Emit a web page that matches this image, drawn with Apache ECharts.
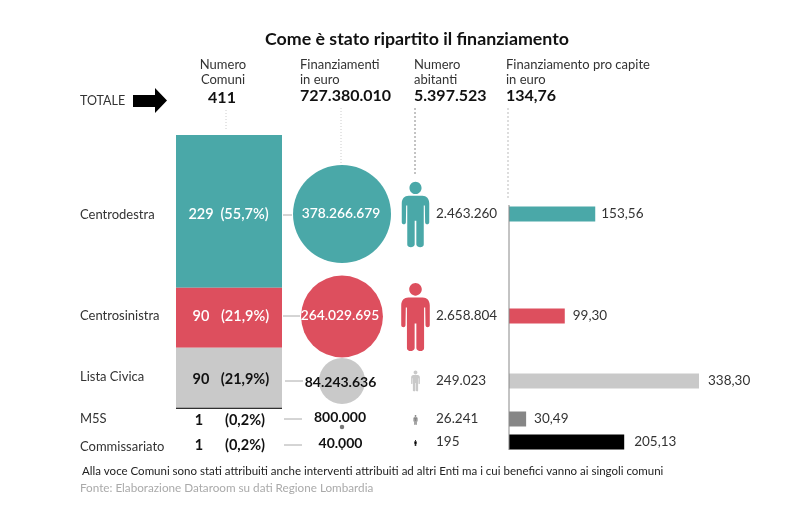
<!DOCTYPE html>
<html><head><meta charset="utf-8">
<style>html,body{margin:0;padding:0;background:#fff}#c{width:800px;height:514px}</style>
<script src="https://cdn.jsdelivr.net/npm/echarts@6/dist/echarts.min.js"></script>
</head><body><div id="c"></div>
<script>
const categories = ['Centrodestra','Centrosinistra','Lista Civica','M5S','Commissariato'];
const comuni = [229,90,90,1,1];
const comuniPct = ['55,7%','21,9%','21,9%','0,2%','0,2%'];
const finanziamenti = [378266679,264029695,84243636,800000,40000];
const abitanti = [2463260,2658804,249023,26241,195];
const proCapite = [153.56,99.30,338.30,30.49,205.13];
const totals = {comuni:411, finanziamenti:727380010, abitanti:5397523, proCapite:'134,76'};
const title = 'Come è stato ripartito il finanziamento';
const note = 'Alla voce Comuni sono stati attribuiti anche interventi attribuiti ad altri Enti ma i cui benefici vanno ai singoli comuni';
const source = 'Fonte: Elaborazione Dataroom su dati Regione Lombardia';

// layout and style
const FONT = 'Lato';
const colors = ['#4aa8a8','#dd4f5e','#c9c9c9','#868686','#000000'];
const rowY = [214,316,381,419,442];
const dotY = [214,316.5,381,427,449];
const personY = [214.5,317,381,420,443];
const labelY = [214.5,315.5,376.5,419,446.5];
const stackLabelY = [214,316,379,420,445];
const finLabelY = [214,316,382,417,443];
const finLabelX = [341,340,340.5,340,340.5];
const finColor = ['#fff','#fff','#111','#111','#111'];
const barLabelGap = [6,8,9,8,10];
const connector = [[283,292,215],[283,300,316],[285,303,381],[284,302,419],[284,302,445]];
const countX = [201,201,201,199,199];
const pctX = [244.5,245,245,245,245];
const PERSON = 'path://M50 0C62 0 72 10 72 22C72 34 62 44 50 44C38 44 28 34 28 22C28 10 38 0 50 0Z M25 50L75 50C90 50 100 60 100 78L100 145C100 155 85 155 85 145L84 85L80 85L80 225C80 238 55 238 53 225L53 140L47 140L47 225C45 238 20 238 20 225L20 85L16 85L15 145C15 155 0 155 0 145L0 78C0 60 10 50 25 50Z';

const fmt = v => String(v).replace(/\B(?=(\d{3})+$)/g,'.');
const dec = v => v.toFixed(2).replace('.',',');

const grids=[], xAxes=[], yAxes=[], series=[];
function addGrid(g, xa, ya){
  grids.push(g);
  xAxes.push(Object.assign({gridIndex:grids.length-1, show:false}, xa));
  yAxes.push(Object.assign({gridIndex:grids.length-1, show:false}, ya));
  return grids.length-1;
}
// stacked Comuni column
const gs = addGrid({left:176,width:106,top:135,height:274},
  {type:'category',data:['Comuni']},
  {type:'value',min:0,max:411,inverse:true});
categories.forEach((c,i)=>series.push({
  type:'bar',name:c,stack:'comuni',xAxisIndex:gs,yAxisIndex:gs,barWidth:'100%',
  data:[comuni[i]],itemStyle:{color:i===3?'#000':colors[i]},silent:true,animation:false
}));
categories.forEach((c,i)=>{
  // circle: area proportional to the funding
  const g1 = addGrid({left:342,width:0.01,top:dotY[i]-0.5,height:1},
    {type:'category',data:[c]},{type:'category',data:[c]});
  series.push({type:'scatter',xAxisIndex:g1,yAxisIndex:g1,animation:false,silent:true,
    data:[[c,c,finanziamenti[i]]],
    symbolSize:d=>Math.max(2,Math.sqrt(d[2]/378266679)*98),
    itemStyle:{color:i>=3?(i===3?'#777':'#555'):colors[i],opacity:1}});
  // person: area proportional to the inhabitants
  const g2 = addGrid({left:415.5,width:0.01,top:personY[i]-0.5,height:1},
    {type:'category',data:[c]},{type:'category',data:[c]});
  series.push({type:'scatter',xAxisIndex:g2,yAxisIndex:g2,animation:false,silent:true,
    data:[[c,c,abitanti[i]]],symbol:PERSON,
    symbolSize:d=>{const h=Math.max(6,Math.sqrt(d[2])*0.0417+(d[2]<1e5?3:0));return [h*0.42,h];},
    itemStyle:{color:colors[i],opacity:1}});
  // per-capita bar
  const g3 = addGrid({left:509,width:190,top:rowY[i]-7.5,height:15},
    {type:'value',min:0,max:338.3},{type:'category',data:[c]});
  series.push({type:'bar',xAxisIndex:g3,yAxisIndex:g3,barWidth:15,animation:false,silent:true,
    data:[proCapite[i]],itemStyle:{color:colors[i]},
    label:{show:true,position:'right',distance:barLabelGap[i],formatter:p=>dec(p.value),
      fontFamily:FONT,fontSize:13.5,color:'#333'}});
});

const T=(x,y,text,o={})=>({type:'text',x,y,z:100,silent:true,style:Object.assign({
  text,fontFamily:FONT,fontSize:13,fill:'#333',align:'left',verticalAlign:'middle'},o)});
const L=(x1,y1,x2,y2,stroke,dash)=>({type:'line',z:50,silent:true,
  shape:{x1,y1,x2,y2},style:{stroke,lineWidth:1,lineDash:dash||null}});

const B={fontSize:16,fontWeight:'bold',fill:'#111'};
const graphic=[
  T(417,39,title,{fontSize:17.8,fontWeight:'bold',fill:'#111',align:'center'}),
  T(80,100.5,'TOTALE',{fontSize:12.5}),
  {type:'polygon',z:50,silent:true,shape:{points:[[133,95],[155,95],[155,88],[167,100.5],[155,113],[155,107],[133,107]]},style:{fill:'#000'}},
  T(223,65,'Numero',{align:'center'}),T(223,80,'Comuni',{align:'center'}),
  T(222,98,fmt(totals.comuni),Object.assign({align:'center'},B)),
  T(300,65,'Finanziamenti'),T(300,80,'in euro'),
  T(300,96,fmt(totals.finanziamenti),B),
  T(414,65,'Numero'),T(414,80,'abitanti'),
  T(414,96,fmt(totals.abitanti),B),
  T(506,65,'Finanziamento pro capite'),T(506,80,'in euro'),
  T(506,96,totals.proCapite,B),
  L(226,110,226,130,'#ccc',[1,2]),
  L(341,108,341,163,'#ccc',[1,2]),
  L(415,108,415,174,'#888',[2,2]),
  L(508,108,508,200,'#bbb',[2,2]),
  L(509,205,509,450,'#888'),
  T(82,471,note,{fontSize:11.5,fill:'#222'}),
  T(80,488,source,{fontSize:11.7,fill:'#aaa'})
];
categories.forEach((c,i)=>{
  graphic.push(T(80,labelY[i],c,{fontSize:13}));
  const col=i<2?'#fff':'#111', w=i<2?600:'bold';
  graphic.push(T(countX[i],stackLabelY[i],String(comuni[i]),{align:'center',fontSize:14.5,fontWeight:w,fill:col}));
  graphic.push(T(pctX[i],stackLabelY[i],'('+comuniPct[i]+')',{align:'center',fontSize:14.5,fontWeight:w,fill:col}));
  graphic.push(L(connector[i][0],connector[i][2],connector[i][1],connector[i][2],'#aaa'));
  graphic.push(T(finLabelX[i],finLabelY[i],fmt(finanziamenti[i]),{align:'center',fontSize:i<2?13.8:14,fontWeight:w,fill:finColor[i]}));
  graphic.push(T(436,rowY[i],fmt(abitanti[i]),{fontSize:13.5}));
});

const chart=echarts.init(document.getElementById('c'),null,{renderer:'canvas'});
chart.setOption({animation:false,backgroundColor:'#fff',grid:grids,xAxis:xAxes,yAxis:yAxes,series,graphic});
</script></body></html>
